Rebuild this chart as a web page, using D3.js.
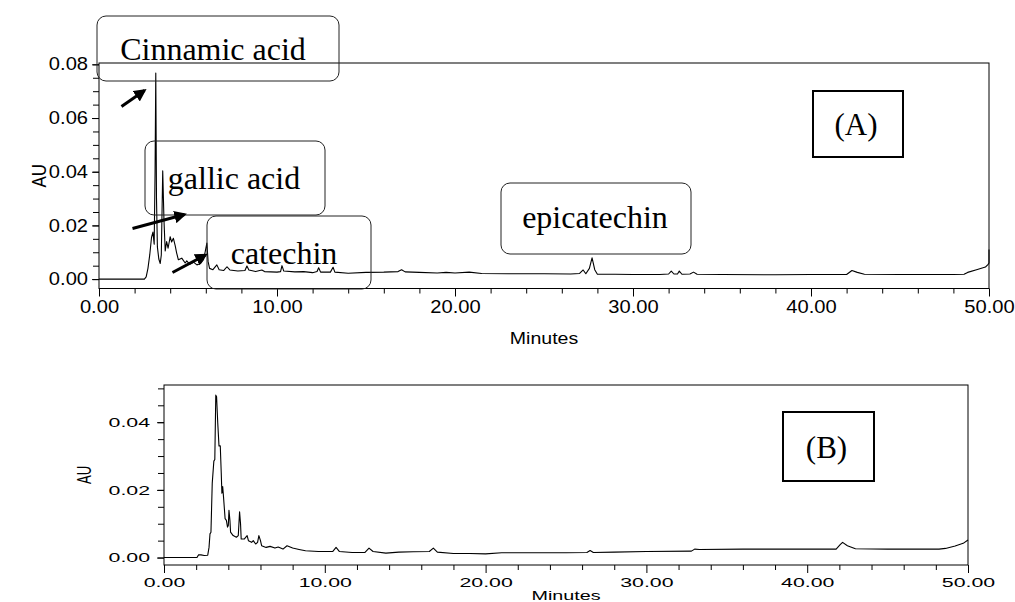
<!DOCTYPE html>
<html>
<head>
<meta charset="utf-8">
<script src="https://cdn.jsdelivr.net/npm/d3@7"></script>
<style>
  html, body { margin: 0; padding: 0; background: #fff; }
  svg { display: block; }
  .tick text { font-family: "Liberation Sans", Arial, sans-serif; fill: #000; }
  .ann { font-family: "Liberation Serif", "Times New Roman", serif; fill: #000; }
</style>
</head>
<body>
<svg id="chart" width="1015" height="602"></svg>
<script>
// Chromatogram (A): retention time (min) and absorbance (AU)
const timeA = [0,2.55,2.65,2.75,2.85,2.95,3.03,3.1,3.15,3.19,3.23,3.28,3.36,3.44,3.5,3.58,3.65,3.72,3.8,3.88,4.0,4.08,4.18,4.28,4.36,4.46,4.65,4.84,4.93,5.1,5.31,5.5,5.7,5.87,5.97,6.06,6.13,6.21,6.4,6.62,6.75,7.0,7.19,7.35,7.8,8.2,8.31,8.42,8.8,9.15,9.3,10.0,10.2,10.28,10.38,11.0,11.5,12.0,12.25,12.34,12.45,13.0,13.15,13.25,14.0,15.0,16.0,16.8,17.0,17.2,18.0,19.0,19.5,20.0,20.8,21.5,23,25,26.5,27.0,27.2,27.35,27.55,27.7,27.85,28.0,29,30,31.5,32.0,32.15,32.3,32.5,32.6,32.75,33.2,33.4,33.6,35,38,40,42.0,42.3,42.6,43.0,45,48.0,48.6,48.8,49.3,49.8,49.95,50,50];
const auA = [0,0,0.0008,0.004,0.009,0.0155,0.0175,0.013,0.04,0.0768,0.03,0.012,0.0075,0.0058,0.009,0.0403,0.022,0.0105,0.014,0.0115,0.0158,0.0138,0.0152,0.0125,0.0098,0.0072,0.0078,0.006,0.0068,0.0055,0.0063,0.0053,0.0058,0.0072,0.0103,0.0134,0.0065,0.004,0.0035,0.0053,0.0035,0.0032,0.0046,0.0034,0.003,0.0032,0.0049,0.0034,0.0028,0.0034,0.0028,0.0026,0.0028,0.005,0.003,0.0027,0.0028,0.0024,0.0028,0.0042,0.0026,0.0026,0.0044,0.0026,0.0022,0.0025,0.0026,0.0028,0.0035,0.0027,0.0025,0.0023,0.0025,0.0023,0.0026,0.0021,0.002,0.002,0.0019,0.0021,0.0034,0.002,0.004,0.0079,0.0035,0.0018,0.0018,0.0017,0.0017,0.0019,0.003,0.0019,0.0019,0.003,0.0018,0.0019,0.0026,0.0018,0.0017,0.0016,0.0017,0.0017,0.0032,0.0025,0.0018,0.0017,0.0017,0.0018,0.0025,0.0035,0.0045,0.0055,0.006,0.011];

// Chromatogram (B)
const timeB = [0,2.05,2.15,2.3,2.5,2.72,2.8,2.86,2.92,3.0,3.1,3.16,3.22,3.27,3.34,3.42,3.5,3.56,3.6,3.65,3.7,3.8,3.88,3.95,4.0,4.04,4.1,4.14,4.3,4.5,4.62,4.7,4.76,4.8,5.0,5.17,5.25,5.45,5.55,5.7,5.82,5.9,6.0,6.07,6.35,6.6,6.9,7.1,7.4,7.65,8.0,8.4,8.8,9.6,10.5,10.7,10.9,11.7,12.5,12.75,13.0,13.8,14.6,15.5,16.5,16.75,17.0,18,19,20,21,23,25,26.3,26.5,26.7,28,30,32.8,33.0,33.3,36,40,41.8,42.05,42.2,42.5,43.0,45,48.2,48.6,49.2,49.7,50];
const auB = [0,0,0.0008,0.0008,0.0006,0.0007,0.003,0.007,0.0075,0.022,0.0285,0.029,0.048,0.0475,0.04,0.033,0.033,0.025,0.019,0.021,0.018,0.0115,0.011,0.009,0.0095,0.014,0.011,0.0075,0.0065,0.006,0.0065,0.0135,0.01,0.0055,0.0055,0.0065,0.005,0.0045,0.005,0.004,0.0045,0.0065,0.005,0.0035,0.003,0.0033,0.0028,0.0031,0.0025,0.0035,0.0028,0.0024,0.002,0.0018,0.0018,0.003,0.0018,0.0015,0.0015,0.0028,0.0018,0.0013,0.0016,0.0017,0.0018,0.0028,0.0016,0.0012,0.0012,0.0011,0.0014,0.0014,0.0014,0.0015,0.0021,0.0015,0.0016,0.0018,0.0019,0.0025,0.0024,0.0025,0.0025,0.0025,0.0038,0.0045,0.0035,0.0026,0.0025,0.0025,0.0027,0.0034,0.0042,0.0052];

// Axis ticks
const xMajor = [0, 10, 20, 30, 40, 50];
const xMinor = [2,4,6,8,12,14,16,18,22,24,26,28,32,34,36,38,42,44,46,48];
const yMajorA = [0, 0.02, 0.04, 0.06, 0.08];
const yMajorB = [0, 0.02, 0.04];
const yMinorA = d3.range(0, 0.0801, 0.005);
const yMinorB = d3.range(0, 0.0501, 0.005);

// Names of the identified peaks on (A)
const peakNames = ["Cinnamic acid", "gallic acid", "catechin", "epicatechin"];

const svg = d3.select("#chart");
const fmt = d3.format(".2f");

function panel(cfg) {
  const g = svg.append("g");
  const x = d3.scaleLinear().domain([0, 50]).range([cfg.left, cfg.right]);
  const y = d3.scaleLinear().domain(cfg.yDomain).range([cfg.bottom, cfg.top]);
  const sx = cfg.textScale;

  // frame
  g.append("rect")
    .attr("x", cfg.left).attr("y", cfg.top)
    .attr("width", cfg.right - cfg.left).attr("height", cfg.bottom - cfg.top)
    .attr("fill", "none").attr("stroke", "#000").attr("stroke-width", 1);

  // minor ticks
  g.append("g").attr("transform", `translate(0,${cfg.bottom})`)
    .call(d3.axisBottom(x).tickValues(xMinor).tickSize(5).tickFormat(""))
    .call(a => a.select(".domain").remove());
  g.append("g").attr("transform", `translate(${cfg.left},0)`)
    .call(d3.axisLeft(y).tickValues(cfg.yMinor).tickSize(6).tickFormat(""))
    .call(a => a.select(".domain").remove());

  // major ticks with labels
  const xa = g.append("g").attr("transform", `translate(0,${cfg.bottom})`)
    .call(d3.axisBottom(x).tickValues(xMajor).tickSize(8).tickPadding(4).tickFormat(fmt));
  xa.select(".domain").remove();
  xa.selectAll("text").style("font-size", cfg.fontSize + "px")
    .attr("transform", `scale(${sx},1)`);

  const ya = g.append("g").attr("transform", `translate(${cfg.left},0)`)
    .call(d3.axisLeft(y).tickValues(cfg.yMajor).tickSize(7).tickPadding(3).tickFormat(fmt));
  ya.select(".domain").remove();
  ya.selectAll("text").style("font-size", cfg.fontSize + "px")
    .attr("x", -cfg.labelGap / sx)
    .attr("transform", `scale(${sx},1)`);

  g.selectAll(".tick line").attr("stroke", "#000");

  // axis titles
  g.append("text")
    .attr("transform", `translate(${(cfg.left + cfg.right) / 2},${cfg.titleY}) scale(${sx},1)`)
    .attr("text-anchor", "middle")
    .style("font-family", "Liberation Sans, Arial, sans-serif")
    .style("font-size", cfg.titleSize + "px")
    .text("Minutes");
  g.append("text")
    .attr("transform", `translate(${cfg.auX},${(cfg.top + cfg.bottom) / 2}) scale(${sx},1) rotate(-90)`)
    .attr("text-anchor", "middle")
    .style("font-family", "Liberation Sans, Arial, sans-serif")
    .style("font-size", cfg.auSize + "px")
    .text("AU");

  // trace
  const pts = cfg.t.map((t, i) => [t, cfg.v[i]]);
  g.append("path")
    .datum(pts)
    .attr("fill", "none").attr("stroke", "#000").attr("stroke-width", 1.1)
    .attr("stroke-linejoin", "round")
    .attr("d", d3.line().x(d => x(d[0])).y(d => y(d[1])));

  return { g, x, y };
}

const A = panel({
  left: 99, right: 989, top: 63, bottom: 288.5,
  yDomain: [-0.0035, 0.0805], yMajor: yMajorA, yMinor: yMinorA,
  t: timeA, v: auA, fontSize: 17.5, textScale: 1.15, labelGap: 11,
  titleY: 344, titleSize: 17, auX: 46, auSize: 17
});

const B = panel({
  left: 164, right: 968, top: 385, bottom: 565,
  yDomain: [-0.0022, 0.051], yMajor: yMajorB, yMinor: yMinorB,
  t: timeB, v: auB, fontSize: 13.5, textScale: 1.58, labelGap: 14,
  titleY: 600, titleSize: 12.5, auX: 91, auSize: 13
});

// rounded label boxes for the identified peaks
const boxes = [
  { name: peakNames[0], x0: 97, y0: 16, x1: 339, y1: 81, tx: 213, ty: 60 },
  { name: peakNames[1], x0: 145, y0: 141, x1: 325, y1: 215, tx: 234, ty: 189 },
  { name: peakNames[2], x0: 207, y0: 216, x1: 371, y1: 289, tx: 284, ty: 264 },
  { name: peakNames[3], x0: 501, y0: 183, x1: 691, y1: 254, tx: 595, ty: 228 }
];
const ann = svg.append("g");
ann.selectAll("rect.lbl").data(boxes).join("rect")
  .attr("class", "lbl")
  .attr("x", d => d.x0).attr("y", d => d.y0)
  .attr("width", d => d.x1 - d.x0).attr("height", d => d.y1 - d.y0)
  .attr("rx", 9).attr("ry", 9)
  .attr("fill", "none").attr("stroke", "#222").attr("stroke-width", 1);
ann.selectAll("text.lbl").data(boxes).join("text")
  .attr("class", "ann lbl")
  .attr("x", d => d.tx).attr("y", d => d.ty)
  .attr("text-anchor", "middle")
  .style("font-size", "32px")
  .text(d => d.name);

// arrows pointing at the peaks
svg.append("defs").append("marker")
  .attr("id", "head").attr("viewBox", "0 0 10 10")
  .attr("refX", 8).attr("refY", 5)
  .attr("markerWidth", 4.2).attr("markerHeight", 4.2)
  .attr("orient", "auto")
  .append("path").attr("d", "M0,0 L10,5 L0,10 Z").attr("fill", "#000");
const arrows = [
  [121.5, 106.5, 144.5, 90.5],
  [132.5, 228.5, 184.5, 214.5],
  [172.5, 272.5, 205.5, 255]
];
ann.selectAll("line.arrow").data(arrows).join("line")
  .attr("class", "arrow")
  .attr("x1", d => d[0]).attr("y1", d => d[1])
  .attr("x2", d => d[2]).attr("y2", d => d[3])
  .attr("stroke", "#000").attr("stroke-width", 3)
  .attr("marker-end", "url(#head)");

// panel tags
const tags = [
  { label: "(A)", x0: 813, y0: 91, x1: 903, y1: 157 },
  { label: "(B)", x0: 783, y0: 412, x1: 874, y1: 481 }
];
ann.selectAll("rect.tag").data(tags).join("rect")
  .attr("class", "tag")
  .attr("x", d => d.x0).attr("y", d => d.y0)
  .attr("width", d => d.x1 - d.x0).attr("height", d => d.y1 - d.y0)
  .attr("fill", "none").attr("stroke", "#000").attr("stroke-width", 2);
ann.selectAll("text.tag").data(tags).join("text")
  .attr("class", "ann tag")
  .attr("x", d => (d.x0 + d.x1) / 2 - 2)
  .attr("y", d => (d.y0 + d.y1) / 2 + 11)
  .attr("text-anchor", "middle")
  .style("font-size", "31px")
  .text(d => d.label);
</script>
</body>
</html>
